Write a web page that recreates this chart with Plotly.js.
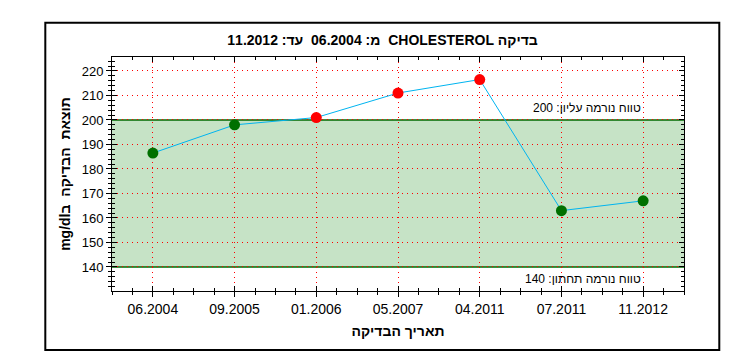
<!DOCTYPE html>
<html>
<head>
<meta charset="utf-8">
<script src="https://cdn.plot.ly/plotly-3.0.1.min.js"></script>
<style>html,body{margin:0;padding:0;background:#fff;}#chart{width:740px;height:363px;}</style>
</head>
<body>
<div id="chart"></div>
<script>
// ---- data ----
const dates = ["06.2004", "09.2005", "01.2006", "05.2007", "04.2011", "07.2011", "11.2012"];
const values = [186.5, 198, 201, 211, 216.5, 163, 167];
const normLow = 140;
const normHigh = 200;
const yTicks = [140, 150, 160, 170, 180, 190, 200, 210, 220];
const testName = "CHOLESTEROL";

const RLE = "\u202B", PDF = "\u202C";
const FONT = "Arial, 'Liberation Sans', sans-serif";
const xIdx = dates.map((d, i) => i);
const markerColors = values.map(v => (v > normHigh || v < normLow) ? "#ff0000" : "#007000");

const xRange = [-0.5, 6.5];
const yRange = [130.2, 225.7];

const traces = [
  {
    x: xIdx, y: values, type: "scatter", mode: "lines+markers",
    line: {color: "#00b4f0", width: 1},
    marker: {color: markerColors, size: 11, line: {width: 0}},
    hoverinfo: "skip", showlegend: false, cliponaxis: false
  },
  {
    x: [null], y: [null], xaxis: "x2", yaxis: "y2", type: "scatter", mode: "markers",
    hoverinfo: "skip", showlegend: false
  }
];

const layout = {
  width: 740, height: 363,
  margin: {l: 112, r: 56, t: 57, b: 72},
  paper_bgcolor: "#ffffff", plot_bgcolor: "#ffffff",
  font: {family: FONT, color: "#000", size: 13},
  showlegend: false,
  title: {
    text: RLE + "בדיקה " + testName + "  מ: " + dates[0] + "  עד: " + dates[dates.length - 1] + PDF,
    font: {family: FONT, size: 14, color: "#000", weight: "bold"},
    x: 0.473, xref: "paper", xanchor: "center",
    y: 1 - 40 / 363, yref: "container", yanchor: "middle"
  },
  xaxis: {
    type: "linear", range: xRange, fixedrange: true,
    tickmode: "array", tickvals: xIdx, ticktext: dates,
    ticks: "outside", ticklen: 5, tickcolor: "#000", tickwidth: 1,
    minor: {dtick: 0.25, tick0: 0, ticks: "outside", ticklen: 3, tickcolor: "#000", showgrid: false},
    showline: true, linecolor: "#000", linewidth: 1, mirror: false,
    showgrid: true, gridcolor: "#ff0000", gridwidth: 1, griddash: "1px,4px",
    zeroline: false,
    tickfont: {family: FONT, size: 14, color: "#000"},
    title: {text: RLE + "תאריך הבדיקה" + PDF, font: {family: FONT, size: 14, color: "#000", weight: "bold"}, standoff: 10}
  },
  xaxis2: {
    type: "linear", range: xRange, fixedrange: true, overlaying: "x", anchor: "y", side: "bottom",
    tickmode: "array", tickvals: xIdx, showticklabels: false,
    ticks: "inside", ticklen: 5, tickcolor: "#000", tickwidth: 1,
    minor: {dtick: 0.25, tick0: 0, ticks: "inside", ticklen: 3, tickcolor: "#000", showgrid: false},
    showline: true, linecolor: "#000", linewidth: 1, mirror: "allticks",
    showgrid: false, zeroline: false
  },
  yaxis: {
    type: "linear", range: yRange, fixedrange: true,
    tickmode: "array", tickvals: yTicks,
    ticks: "outside", ticklen: 5, tickcolor: "#000", tickwidth: 1,
    minor: {dtick: 2, tick0: 0, ticks: "outside", ticklen: 3, tickcolor: "#000", showgrid: false},
    showline: true, linecolor: "#000", linewidth: 1, mirror: false,
    showgrid: true, gridcolor: "#ff0000", gridwidth: 1, griddash: "1px,4px",
    zeroline: false,
    tickfont: {family: FONT, size: 13, color: "#000"},
    title: {text: RLE + "תוצאת  הבדיקה  בmg/dl" + PDF, font: {family: FONT, size: 14, color: "#000", weight: "bold"}, standoff: 7}
  },
  yaxis2: {
    type: "linear", range: yRange, fixedrange: true, overlaying: "y", anchor: "x", side: "left",
    tickmode: "array", tickvals: yTicks, showticklabels: false,
    ticks: "inside", ticklen: 5, tickcolor: "#000", tickwidth: 1,
    minor: {dtick: 2, tick0: 0, ticks: "inside", ticklen: 3, tickcolor: "#000", showgrid: false},
    showline: true, linecolor: "#000", linewidth: 1, mirror: "allticks",
    showgrid: false, zeroline: false
  },
  shapes: [
    {type: "rect", xref: "paper", yref: "y", x0: 0, x1: 1, y0: normLow, y1: normHigh,
     fillcolor: "#c6e3c6", line: {width: 0}, layer: "below"},
    {type: "line", xref: "paper", yref: "y", x0: 0, x1: 1, y0: normHigh, y1: normHigh,
     line: {color: "#006a00", width: 1.5}, layer: "between"},
    {type: "line", xref: "paper", yref: "y", x0: 0, x1: 1, y0: normLow, y1: normLow,
     line: {color: "#006a00", width: 1.5}, layer: "between"},
    {type: "rect", xref: "paper", yref: "paper", x0: -0.1166, x1: 1.0617, y0: -0.2521, y1: 1.1466,
     fillcolor: "rgba(0,0,0,0)", line: {color: "#000", width: 2}, layer: "above"}
  ],
  annotations: [
    {xref: "x", yref: "y", x: dates.length - 1, y: 204.8, xanchor: "right", yanchor: "middle",
     text: RLE + "טווח נורמה עליון: " + normHigh + PDF, showarrow: false,
     font: {family: FONT, size: 12, color: "#000"}},
    {xref: "x", yref: "y", x: dates.length - 1, y: 135.1, xanchor: "right", yanchor: "middle",
     text: RLE + "טווח נורמה תחתון: " + normLow + PDF, showarrow: false,
     font: {family: FONT, size: 12, color: "#000"}}
  ]
};

Plotly.newPlot("chart", traces, layout, {staticPlot: true, displayModeBar: false});
</script>
</body>
</html>
